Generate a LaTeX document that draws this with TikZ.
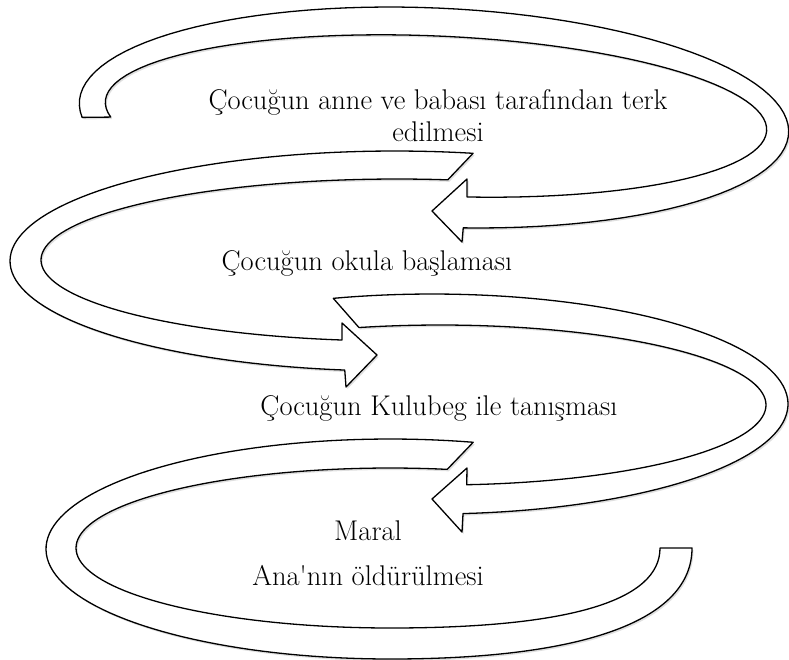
\documentclass[tikz,border=0pt]{standalone}
\usepackage{tikz}
\usetikzlibrary{shadows}
\tikzset{
  band/.style={draw=black, line width=1.3pt, fill=white, line join=round,
    drop shadow={shadow xshift=1.5pt, shadow yshift=-2pt, opacity=.25}},
  lbl/.style={font=\fontsize{28.5}{32}\selectfont, align=center, inner sep=0pt}
}
\begin{document}
\begin{tikzpicture}[x=1pt,y=-1pt,samples=90]
\useasboundingbox (0,0) rectangle (789,659);
\draw[band] plot[domain=172:444.5] ({434+354.66*cos(\x)-4.776*sin(\x)},{117.5+15.485*cos(\x)+109.396*sin(\x)})
  -- (462,242) -- (432,211) -- (467,179)
  -- plot[domain=444:169] ({436+330.69*cos(\x)-3.49*sin(\x)},{116+14.44*cos(\x)+79.92*sin(\x)}) -- cycle;
\draw[band] plot[domain=281.7:97.5] ({395+385*cos(\x)},{261+110*sin(\x)})
  -- (346,387) -- (377,355) -- (342,323)
  -- plot[domain=98.9:278.2] ({397+356*cos(\x)},{260+81*sin(\x)}) -- cycle;
\draw[band] plot[domain=253.9:445] ({432+356*cos(\x)},{404+110*sin(\x)})
  -- (462,532) -- (432,499) -- (467,468)
  -- plot[domain=445.3:255.6] ({440+326*cos(\x)},{405+80*sin(\x)}) -- cycle;
\draw[band] plot[domain=284:90] ({390+344*cos(\x)},{549+110*sin(\x)})
  .. controls (585,659) and (692,620) .. (692,548) -- (660,548)
  .. controls (660,600) and (572,628) .. (390,628)
  -- plot[domain=90:280.5] ({390+314*cos(\x)},{548+80*sin(\x)}) -- cycle;
\node[lbl] (abandon) at (438,116) {Çocuğun anne ve babası tarafından terk\\edilmesi};
\node[lbl] (school) at (367,263) {Çocuğun okula başlaması};
\node[lbl] (kulubeg) at (439,408) {Çocuğun Kulubeg ile tanışması};
\node[lbl] (maral) at (368,553) {Maral\\[13pt]Ana\textquotesingle nın öldürülmesi};
\end{tikzpicture}
\end{document}
